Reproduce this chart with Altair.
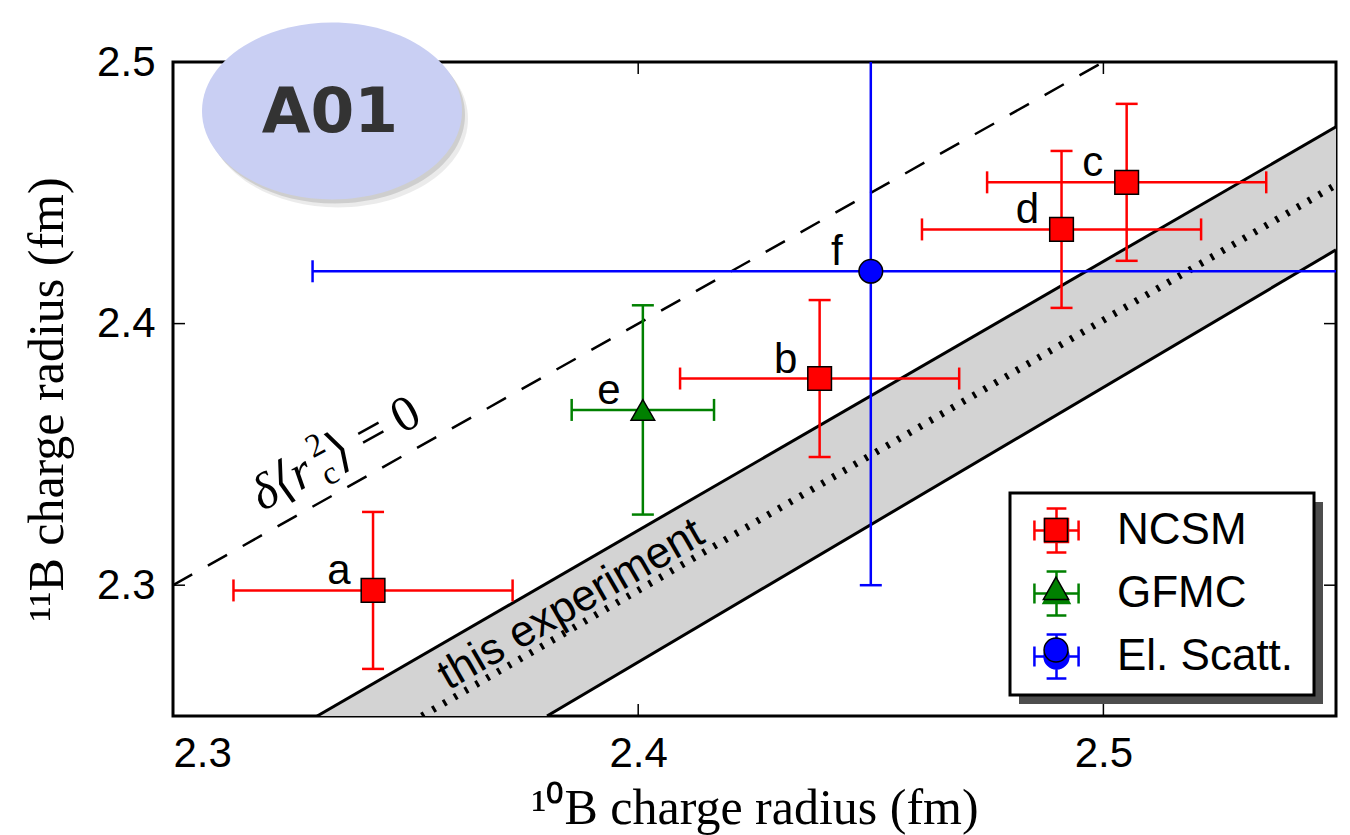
import altair as alt
import pandas as pd

# ---------------- data ----------------
point_names = ["a", "b", "c", "d", "e", "f"]
point_series = ["NCSM", "NCSM", "NCSM", "NCSM", "GFMC", "El. Scatt."]
r10 = [2.343, 2.439, 2.505, 2.491, 2.401, 2.450]
r11 = [2.298, 2.379, 2.454, 2.436, 2.367, 2.420]
r10_err = [0.030, 0.030, 0.030, 0.030, 0.0153, 0.120]
r11_err = [0.030, 0.030, 0.030, 0.030, 0.040, 0.120]

series_names = ["NCSM", "GFMC", "El. Scatt."]
series_colors = ["#ff0000", "#008000", "#0000ff"]
series_shapes = ["square", "triangle-up", "circle"]

zero_x = [2.30, 2.50]
zero_y = [2.30, 2.50]
band_x = [2.331, 2.3804, 2.55]
band_hi = [2.25, 2.3011, 2.4752]
band_lo = [2.25, 2.25, 2.4282]
upper_x = [2.331, 2.55]
upper_y = [2.25, 2.4752]
lower_x = [2.3804, 2.55]
lower_y = [2.25, 2.4282]
center_x = [2.3535, 2.55]
center_y = [2.25, 2.453]

x_ticks = [2.3, 2.4, 2.5]
y_ticks = [2.3, 2.4, 2.5]

exp_label = ["this experiment"]
exp_x = [2.3856]
exp_y = [2.2925]
delta_x = [2.3192]
delta_y = [2.3281]
badge_text = ["A01"]

W, H = 1163, 654

# ---------------- tables ----------------
pts = pd.DataFrame({"name": point_names, "series": point_series, "r10": r10, "r11": r11,
                    "r10_err": r10_err, "r11_err": r11_err})
ser = pd.DataFrame({"series": series_names})
zero_df = pd.DataFrame({"x": zero_x, "y": zero_y})
band_df = pd.DataFrame({"x": band_x, "hi": band_hi, "lo": band_lo})
upper_df = pd.DataFrame({"x": upper_x, "y": upper_y})
lower_df = pd.DataFrame({"x": lower_x, "y": lower_y})
center_df = pd.DataFrame({"x": center_x, "y": center_y})
xt_df = pd.DataFrame({"v": x_ticks})
yt_df = pd.DataFrame({"v": y_ticks})
exp_df = pd.DataFrame({"t": exp_label, "x": exp_x, "y": exp_y})
delta_df = pd.DataFrame({"x": delta_x, "y": delta_y})
badge_df = pd.DataFrame({"t": badge_text})

xs = alt.Scale(domain=[2.3, 2.55], nice=False, zero=False)
ys = alt.Scale(domain=[2.25, 2.5], nice=False, zero=False)

x_axis = alt.Axis(values=x_ticks, format=".1f", labelFont="Liberation Sans", labelFontSize=42,
                  labelColor="black", labelPadding=17, ticks=False, domain=False, grid=False,
                  title="¹⁰B charge radius (fm)", titleFont="Liberation Serif", titleFontSize=50,
                  titleFontWeight="normal", titleColor="black", titleY=107, titleBaseline="alphabetic")
y_axis = alt.Axis(values=y_ticks, format=".1f", labelFont="Liberation Sans", labelFontSize=42,
                  labelColor="black", labelPadding=18, ticks=False, domain=False, grid=False,
                  title="¹¹B charge radius (fm)", titleFont="Liberation Serif", titleFontSize=50,
                  titleFontWeight="normal", titleColor="black", titleAngle=270, titleX=-111,
                  titleY=337, titleBaseline="alphabetic", titleAlign="center")


def X(f):
    return alt.X(f, type="quantitative", scale=xs, axis=x_axis)


def Y(f):
    return alt.Y(f, type="quantitative", scale=ys, axis=y_axis)


color_enc = alt.Color("series:N", scale=alt.Scale(domain=series_names, range=series_colors), legend=None)

# ---------------- band and reference lines ----------------
band = alt.Chart(band_df).mark_area(color="#d3d3d3", opacity=1, clip=True).encode(
    x=X("x"), y=Y("hi"), y2="lo")
upper = alt.Chart(upper_df).mark_line(color="black", strokeWidth=3, clip=True).encode(x=X("x"), y=Y("y"))
lower = alt.Chart(lower_df).mark_line(color="black", strokeWidth=3, clip=True).encode(x=X("x"), y=Y("y"))
center = alt.Chart(center_df).mark_line(color="black", strokeWidth=7, strokeDash=[3, 9.5],
                                        strokeCap="butt", clip=True).encode(x=X("x"), y=Y("y"))
zero = alt.Chart(zero_df).mark_line(color="black", strokeWidth=2.5, strokeDash=[22, 18],
                                    clip=True).encode(x=X("x"), y=Y("y"))

exp_text = alt.Chart(exp_df).mark_text(font="Liberation Sans", fontSize=44, angle=330, align="center",
                                       baseline="middle", color="black").encode(
    x=X("x"), y=Y("y"), text="t:N")

dfont = "Liberation Serif, DejaVu Serif, serif"
d1 = alt.Chart(delta_df).mark_text(text="δ⟨r", font=dfont, fontStyle="italic", fontSize=50, angle=331,
                                   align="left", baseline="alphabetic", color="black").encode(x=X("x"), y=Y("y"))
d2 = alt.Chart(delta_df).mark_text(text="2", font=dfont, fontSize=33, angle=331, dx=70, dy=-22,
                                   align="left", baseline="alphabetic", color="black").encode(x=X("x"), y=Y("y"))
d3 = alt.Chart(delta_df).mark_text(text="c", font=dfont, fontSize=33, angle=331, dx=70, dy=10,
                                   align="left", baseline="alphabetic", color="black").encode(x=X("x"), y=Y("y"))
d4 = alt.Chart(delta_df).mark_text(text="⟩ = 0", font=dfont, fontSize=50, angle=331, dx=87,
                                   align="left", baseline="alphabetic", color="black").encode(x=X("x"), y=Y("y"))

# ---------------- error bars and points ----------------
base = alt.Chart(pts).transform_calculate(
    xlo="datum.r10 - datum.r10_err", xhi="datum.r10 + datum.r10_err",
    ylo="datum.r11 - datum.r11_err", yhi="datum.r11 + datum.r11_err")

hbar = base.mark_rule(strokeWidth=2.5, clip=True).encode(x=X("xlo"), x2="xhi:Q", y=Y("r11"), color=color_enc)
vbar = base.mark_rule(strokeWidth=2.5, clip=True).encode(x=X("r10"), y=Y("ylo"), y2="yhi:Q", color=color_enc)
cap_l = base.mark_tick(orient="vertical", size=22, thickness=2.5, opacity=1, clip=True).encode(
    x=X("xlo"), y=Y("r11"), color=color_enc)
cap_r = base.mark_tick(orient="vertical", size=22, thickness=2.5, opacity=1, clip=True).encode(
    x=X("xhi"), y=Y("r11"), color=color_enc)
cap_b = base.mark_tick(orient="horizontal", size=22, thickness=2.5, opacity=1, clip=True).encode(
    x=X("r10"), y=Y("ylo"), color=color_enc)
cap_t = base.mark_tick(orient="horizontal", size=22, thickness=2.5, opacity=1, clip=True).encode(
    x=X("r10"), y=Y("yhi"), color=color_enc)

points = alt.Chart(pts).mark_point(filled=True, stroke="black", strokeWidth=1.5, opacity=1, size=560).encode(
    x=X("r10"), y=Y("r11"),
    fill=alt.Fill("series:N", scale=alt.Scale(domain=series_names, range=series_colors), legend=None),
    shape=alt.Shape("series:N", scale=alt.Scale(domain=series_names, range=series_shapes), legend=None))

labels = alt.Chart(pts).mark_text(font="Liberation Sans", fontSize=42, dx=-34, dy=-6, align="center",
                                  baseline="alphabetic", color="black").encode(
    x=X("r10"), y=Y("r11"), text="name:N")

# ---------------- inward ticks on all four sides ----------------
tick_b = alt.Chart(xt_df).mark_tick(orient="vertical", size=12, thickness=1.5, color="black", opacity=1).encode(
    x=X("v"), y=alt.value(H - 6))
tick_t = alt.Chart(xt_df).mark_tick(orient="vertical", size=12, thickness=1.5, color="black", opacity=1).encode(
    x=X("v"), y=alt.value(6))
tick_l = alt.Chart(yt_df).mark_tick(orient="horizontal", size=12, thickness=1.5, color="black", opacity=1).encode(
    y=Y("v"), x=alt.value(6))
tick_r = alt.Chart(yt_df).mark_tick(orient="horizontal", size=12, thickness=1.5, color="black", opacity=1).encode(
    y=Y("v"), x=alt.value(W - 6))

# ---------------- legend box (shadow + frame) ----------------
shadow = alt.Chart(badge_df).mark_rect(color="#4d4d4d").encode(
    x=alt.value(846), x2=alt.value(1150), y=alt.value(440), y2=alt.value(642))
box = alt.Chart(badge_df).mark_rect(fill="white", stroke="black", strokeWidth=3).encode(
    x=alt.value(837), x2=alt.value(1141), y=alt.value(431), y2=alt.value(633))

ext_a = "M0,-1.12M0,1.12"
ext_b = "M0,-1.142M0,1.142"
cross = "M-0.96,0H0.96M0,-0.96V0.96M-0.96,-0.43V0.43M0.96,-0.43V0.43M-0.43,-0.96H0.43M-0.43,0.96H0.43"
m_sq = "M-0.5,-0.5H0.5V0.5H-0.5Z"
m_tri = "M0,-0.56L0.55,0.41L-0.55,0.41Z"
m_cir = ("M0.52,0C0.52,0.287,0.287,0.52,0,0.52C-0.287,0.52,-0.52,0.287,-0.52,0"
         "C-0.52,-0.287,-0.287,-0.52,0,-0.52C0.287,-0.52,0.52,-0.287,0.52,0Z")
leg_paths_a = [ext_a + cross + m_sq, ext_a + cross + m_tri, ext_a + cross + m_cir]
leg_paths_b = [ext_b + m_sq, ext_b + m_tri, ext_b + m_cir]

common_leg = dict(orient="none", legendX=837, legendY=428, direction="vertical", title=None,
                  symbolSize=2116, symbolOffset=6, labelOffset=36, rowPadding=0, padding=16,
                  labelFont="Liberation Sans", labelFontSize=44, labelColor="black", labelLimit=400)
leg_a = alt.Legend(symbolStrokeWidth=2.5, **common_leg)
leg_b = alt.Legend(symbolStrokeWidth=1.5, labelExpr="''", **common_leg)

legend_a = alt.Chart(ser).mark_point(filled=True, strokeWidth=2.5, opacity=1, clip=True).encode(
    x=alt.value(-3000), y=alt.value(-3000),
    fill=alt.Fill("series:N", scale=alt.Scale(domain=series_names, range=series_colors), legend=leg_a),
    stroke=alt.Stroke("series:N", scale=alt.Scale(domain=series_names, range=series_colors), legend=leg_a),
    shape=alt.Shape("series:N", scale=alt.Scale(domain=series_names, range=leg_paths_a), legend=leg_a))
legend_b = alt.Chart(ser).mark_point(filled=True, stroke="black", strokeWidth=1.5, opacity=1, clip=True).encode(
    x=alt.value(-3000), y=alt.value(-3000),
    fill=alt.Fill("series:N", scale=alt.Scale(domain=series_names, range=series_colors), legend=leg_b),
    shape=alt.Shape("series:N", scale=alt.Scale(domain=series_names, range=leg_paths_b), legend=leg_b))

# ---------------- badge ----------------
ell = "M-1,0A1,0.68,0,1,1,1,0A1,0.68,0,1,1,-1,0Z"
badge_sh1 = alt.Chart(badge_df).mark_point(shape=ell, size=67600, filled=True, color="black", opacity=0.08,
                                           strokeWidth=0).encode(x=alt.value(165), y=alt.value(57))
badge_sh2 = alt.Chart(badge_df).mark_point(shape=ell, size=67600, filled=True, color="black", opacity=0.12,
                                           strokeWidth=0).encode(x=alt.value(162), y=alt.value(53))
badge = alt.Chart(badge_df).mark_point(shape=ell, size=67600, filled=True, color="#c9cff3", opacity=1,
                                       strokeWidth=0).encode(x=alt.value(159), y=alt.value(49))
badge_txt = alt.Chart(badge_df).mark_text(font="DejaVu Sans", fontWeight="bold", fontSize=63, color="#333333",
                                          align="center", baseline="alphabetic").encode(
    x=alt.value(157), y=alt.value(70), text="t:N")

chart = alt.layer(
    band, upper, lower, center, zero, exp_text, d1, d2, d3, d4,
    hbar, vbar, cap_l, cap_r, cap_b, cap_t, points, labels,
    tick_b, tick_t, tick_l, tick_r,
    shadow, box, legend_a, legend_b,
    badge_sh1, badge_sh2, badge, badge_txt
).resolve_scale(
    color="independent", fill="independent", stroke="independent", shape="independent"
).properties(
    width=W, height=H,
    padding={"left": 173, "top": 62, "right": 14, "bottom": 119},
    autosize=alt.AutoSizeParams(type="none"),
    background="white"
).configure_view(stroke="black", strokeWidth=3)

chart.save("out.html", embed_options={"renderer": "svg", "actions": False})
